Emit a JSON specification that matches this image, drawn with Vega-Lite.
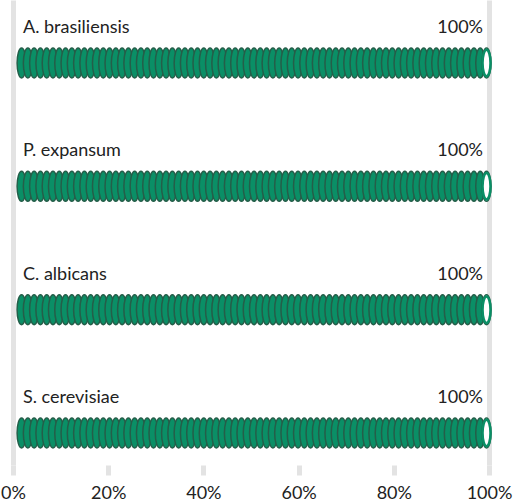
{
  "$schema": "https://vega.github.io/schema/vega-lite/v6.json",
  "autosize": "none",
  "width": 476,
  "height": 465,
  "padding": {"left": 13, "top": 0, "right": 28, "bottom": 39},
  "background": "white",
  "config": {"view": {"stroke": null}, "font": "Lato"},
  "datasets": {
    "labels": [
      {"species": "A. brasiliensis", "order": 1, "pct": 100, "pct_label": "100%"},
      {"species": "P. expansum", "order": 2, "pct": 100, "pct_label": "100%"},
      {"species": "C. albicans", "order": 3, "pct": 100, "pct_label": "100%"},
      {"species": "S. cerevisiae", "order": 4, "pct": 100, "pct_label": "100%"}
    ],
    "units": [
      {"species": "A. brasiliensis", "order": 1, "u": [1.8, 3.12, 4.44, 5.76, 7.08, 8.4, 9.72, 11.04, 12.36, 13.68, 15, 16.32, 17.64, 18.96, 20.28, 21.6, 22.92, 24.24, 25.56, 26.88, 28.2, 29.52, 30.84, 32.16, 33.48, 34.8, 36.12, 37.44, 38.76, 40.08, 41.4, 42.72, 44.04, 45.36, 46.68, 48, 49.32, 50.64, 51.96, 53.28, 54.6, 55.92, 57.24, 58.56, 59.88, 61.2, 62.52, 63.84, 65.16, 66.48, 67.8, 69.12, 70.44, 71.76, 73.08, 74.4, 75.72, 77.04, 78.36, 79.68, 81, 82.32, 83.64, 84.96, 86.28, 87.6, 88.92, 90.24, 91.56, 92.88, 94.2, 95.52, 96.84, 98.16, 99.48]},
      {"species": "P. expansum", "order": 2, "u": [1.8, 3.12, 4.44, 5.76, 7.08, 8.4, 9.72, 11.04, 12.36, 13.68, 15, 16.32, 17.64, 18.96, 20.28, 21.6, 22.92, 24.24, 25.56, 26.88, 28.2, 29.52, 30.84, 32.16, 33.48, 34.8, 36.12, 37.44, 38.76, 40.08, 41.4, 42.72, 44.04, 45.36, 46.68, 48, 49.32, 50.64, 51.96, 53.28, 54.6, 55.92, 57.24, 58.56, 59.88, 61.2, 62.52, 63.84, 65.16, 66.48, 67.8, 69.12, 70.44, 71.76, 73.08, 74.4, 75.72, 77.04, 78.36, 79.68, 81, 82.32, 83.64, 84.96, 86.28, 87.6, 88.92, 90.24, 91.56, 92.88, 94.2, 95.52, 96.84, 98.16, 99.48]},
      {"species": "C. albicans", "order": 3, "u": [1.8, 3.12, 4.44, 5.76, 7.08, 8.4, 9.72, 11.04, 12.36, 13.68, 15, 16.32, 17.64, 18.96, 20.28, 21.6, 22.92, 24.24, 25.56, 26.88, 28.2, 29.52, 30.84, 32.16, 33.48, 34.8, 36.12, 37.44, 38.76, 40.08, 41.4, 42.72, 44.04, 45.36, 46.68, 48, 49.32, 50.64, 51.96, 53.28, 54.6, 55.92, 57.24, 58.56, 59.88, 61.2, 62.52, 63.84, 65.16, 66.48, 67.8, 69.12, 70.44, 71.76, 73.08, 74.4, 75.72, 77.04, 78.36, 79.68, 81, 82.32, 83.64, 84.96, 86.28, 87.6, 88.92, 90.24, 91.56, 92.88, 94.2, 95.52, 96.84, 98.16, 99.48]},
      {"species": "S. cerevisiae", "order": 4, "u": [1.8, 3.12, 4.44, 5.76, 7.08, 8.4, 9.72, 11.04, 12.36, 13.68, 15, 16.32, 17.64, 18.96, 20.28, 21.6, 22.92, 24.24, 25.56, 26.88, 28.2, 29.52, 30.84, 32.16, 33.48, 34.8, 36.12, 37.44, 38.76, 40.08, 41.4, 42.72, 44.04, 45.36, 46.68, 48, 49.32, 50.64, 51.96, 53.28, 54.6, 55.92, 57.24, 58.56, 59.88, 61.2, 62.52, 63.84, 65.16, 66.48, 67.8, 69.12, 70.44, 71.76, 73.08, 74.4, 75.72, 77.04, 78.36, 79.68, 81, 82.32, 83.64, 84.96, 86.28, 87.6, 88.92, 90.24, 91.56, 92.88, 94.2, 95.52, 96.84, 98.16, 99.48]}
    ]
  },
  "layer": [
    {
      "data": {"name": "units"},
      "transform": [{"flatten": ["u"]}],
      "mark": {
        "type": "point",
        "shape": "M0,-1A0.3,1 0 1,1 0,1A0.3,1 0 1,1 0,-1Z",
        "size": 900,
        "filled": true,
        "opacity": 1,
        "stroke": "#255e49",
        "strokeWidth": 1.5
      },
      "encoding": {
        "x": {
          "field": "u",
          "type": "quantitative",
          "scale": {"domain": [0, 100], "nice": false, "zero": false},
          "axis": {
            "values": [0, 20, 40, 60, 80, 100],
            "title": null,
            "domain": false,
            "grid": true,
            "gridColor": "#e3e3e3",
            "gridWidth": 5,
            "gridOpacity": {"condition": {"test": "datum.value === 0 || datum.value === 100", "value": 1}, "value": 0},
            "ticks": true,
            "tickSize": 10,
            "tickWidth": 5,
            "tickColor": "#e3e3e3",
            "labelExpr": "datum.value + '%'",
            "labelFontSize": 18,
            "labelColor": "#222222",
            "labelPadding": 9,
            "labelFlush": false
          }
        },
        "y": {
          "field": "order",
          "type": "quantitative",
          "scale": {"domain": [0.489, 4.2595], "reverse": true, "nice": false, "zero": false},
          "axis": null
        },
        "fill": {
          "condition": {"test": "datum.u > 99", "value": "white"},
          "value": "#0a8f66"
        },
        "order": {"field": "u", "type": "quantitative"}
      }
    },
    {
      "data": {"name": "units"},
      "transform": [{"flatten": ["u"]}, {"filter": "datum.u > 99"}],
      "mark": {
        "type": "point",
        "shape": "M0,-1A0.3,1 0 1,1 0,1A0.3,1 0 1,1 0,-1Z",
        "size": 700,
        "filled": false,
        "opacity": 1,
        "stroke": "#0a8f66",
        "strokeWidth": 2.5
      },
      "encoding": {
        "x": {"field": "u", "type": "quantitative"},
        "y": {"field": "order", "type": "quantitative"}
      }
    },
    {
      "data": {"name": "labels"},
      "mark": {"type": "text", "align": "left", "baseline": "middle", "dx": 10, "dy": -35, "fontSize": 18, "color": "#222222"},
      "encoding": {
        "x": {"datum": 0, "type": "quantitative"},
        "y": {"field": "order", "type": "quantitative"},
        "text": {"field": "species"}
      }
    },
    {
      "data": {"name": "labels"},
      "mark": {"type": "text", "align": "right", "baseline": "middle", "dx": -6, "dy": -35, "fontSize": 18, "color": "#222222"},
      "encoding": {
        "x": {"field": "pct", "type": "quantitative"},
        "y": {"field": "order", "type": "quantitative"},
        "text": {"field": "pct_label"}
      }
    }
  ]
}
